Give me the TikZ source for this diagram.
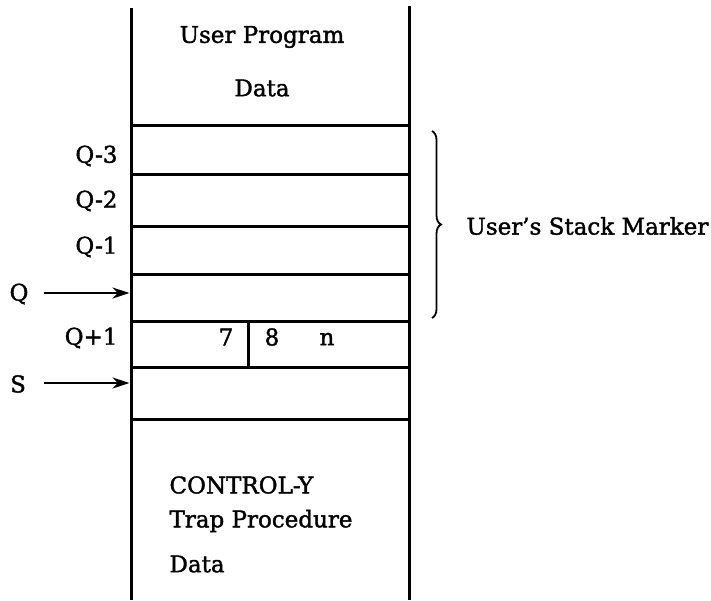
\documentclass[tikz,border=0pt]{standalone}
\usepackage{fontspec}
\setmainfont[BoldFont=DejaVu Serif,BoldFeatures={FakeBold=1.6}]{DejaVu Serif}
\usetikzlibrary{arrows.meta,decorations.pathreplacing}
\begin{document}
\begin{tikzpicture}[x=1pt,y=-1pt,line width=3pt,
  txt/.style={font=\fontsize{23}{27}\selectfont\bfseries,inner sep=0pt},
  cell/.style={inner sep=0pt,minimum width=278pt},
  ptr/.style={line width=2.4pt,-{Stealth[length=17pt,width=11pt]}},
  brc/.style={line width=1.8pt,decorate,decoration={brace,amplitude=9pt}}]
\useasboundingbox (0,0) rectangle (711,600);
% stack walls
\coordinate (lt) at (131,8);
\coordinate (lb) at (131,600);
\coordinate (rt) at (409,6);
\coordinate (rb) at (409,600);
\draw (lt) -- (lb);
\draw (rt) -- (rb);
% row separators
\foreach \y/\n in {125/a,174/b,226/c,274/d,321/e,367/f,419/g}{
  \coordinate (\n l) at (131,\y);
  \coordinate (\n r) at (409,\y);
  \draw (\n l) -- (\n r);
}
\coordinate (dv1) at (248,321);
\coordinate (dv2) at (248,367);
\draw (dv1) -- (dv2);
% cell nodes (invisible) for arrow targets
\node[cell,minimum height=47pt] (rowQ) at (270,297.5) {};
\node[cell,minimum height=52pt] (rowS) at (270,393) {};
% texts
\node[txt] (up) at (262,37) {User Program};
\node[txt] (ud) at (262,88) {Data};
\node[txt,anchor=east] (qm3) at (119,156) {Q-3};
\node[txt,anchor=east] (qm2) at (119,201) {Q-2};
\node[txt,anchor=east] (qm1) at (119,247) {Q-1};
\node[txt] (q) at (19,294) {Q};
\node[txt,anchor=east] (qp1) at (119,338) {Q+1};
\node[txt] (s) at (18,384) {S};
\node[txt] (n7) at (226,337) {7};
\node[txt] (n8) at (272,337) {8};
\node[txt] (nn) at (327,339) {n};
\node[txt,anchor=west] (c1) at (168,485) {CONTROL-Y};
\node[txt,anchor=west] (c2) at (168,521) {Trap Procedure};
\node[txt,anchor=west] (c3) at (168,564) {Data};
% pointers
\coordinate (qs) at (44,293);
\coordinate (ss) at (44,383);
\draw[ptr] (qs) -- (rowQ.west |- qs);
\draw[ptr] (ss) -- (rowS.west |- ss);
% brace
\coordinate (b1) at (432,131);
\coordinate (b2) at (432,318);
\draw[brc] (b1) -- (b2);
\node[txt,anchor=west] (usm) at (465,226) {User’s Stack Marker};
\end{tikzpicture}
\end{document}
